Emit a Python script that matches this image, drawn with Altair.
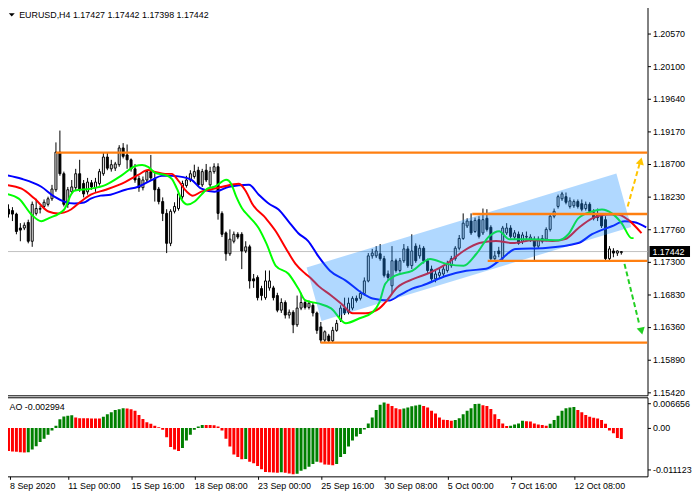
import altair as alt
import pandas as pd

# ---------------- data: EURUSD H4, bar 0 = 8 Sep 2020 08:00 ----------------
opens = [
    1.1826, 1.1805, 1.1803, 1.1798, 1.1778, 1.1778, 1.1786, 1.1759, 1.1799, 1.1805,
    1.1809, 1.1812, 1.1820, 1.1833, 1.1887, 1.1856, 1.1812, 1.1830, 1.1836, 1.1856,
    1.1842, 1.1830, 1.1843, 1.1836, 1.1842, 1.1856, 1.1880, 1.1863, 1.1864, 1.1869,
    1.1893, 1.1883, 1.1876, 1.1863, 1.1849, 1.1836, 1.1847, 1.1859, 1.1849, 1.1834,
    1.1816, 1.1799, 1.1756, 1.1802, 1.1806, 1.1823, 1.1839, 1.1847, 1.1852, 1.1861,
    1.1840, 1.1861, 1.1840, 1.1859, 1.1866, 1.1799, 1.1771, 1.1741, 1.1759, 1.1769,
    1.1769, 1.1745, 1.1751, 1.1705, 1.1707, 1.1691, 1.1678, 1.1692, 1.1692, 1.1681,
    1.1660, 1.1671, 1.1653, 1.1657, 1.1639, 1.1663, 1.1671, 1.1664, 1.1667, 1.1656,
    1.1636, 1.1617, 1.1623, 1.1616, 1.1631, 1.1646, 1.1663, 1.1657, 1.1663, 1.1677,
    1.1677, 1.1684, 1.1702, 1.1738, 1.1738, 1.1741, 1.1734, 1.1712, 1.1695, 1.1731,
    1.1717, 1.1731, 1.1748, 1.1724, 1.1752, 1.1738, 1.1749, 1.1731, 1.1719, 1.1705,
    1.1710, 1.1712, 1.1717, 1.1724, 1.1734, 1.1749, 1.1763, 1.1781, 1.1788, 1.1773,
    1.1790, 1.1771, 1.1792, 1.1779, 1.1734, 1.1745, 1.1735, 1.1771, 1.1778, 1.1765,
    1.1769, 1.1759, 1.1765, 1.1762, 1.1762, 1.1752, 1.1759, 1.1762, 1.1776, 1.1795,
    1.1809, 1.1820, 1.1823, 1.1809, 1.1810, 1.1816, 1.1813, 1.1806, 1.1812, 1.1800,
    1.1798, 1.1795, 1.1790, 1.1734, 1.1745, 1.1742, 1.17427]
highs = [
    1.1833, 1.1812, 1.1808, 1.1800, 1.1785, 1.1786, 1.1790, 1.1816, 1.1820, 1.1810,
    1.1819, 1.1823, 1.1840, 1.1901, 1.1918, 1.1859, 1.1837, 1.1847, 1.1863, 1.1876,
    1.1847, 1.1850, 1.1847, 1.1850, 1.1863, 1.1886, 1.1887, 1.1876, 1.1873, 1.1897,
    1.1900, 1.1898, 1.1878, 1.1870, 1.1853, 1.1852, 1.1861, 1.1883, 1.1859, 1.1837,
    1.1822, 1.1805, 1.1805, 1.1815, 1.1830, 1.1846, 1.1853, 1.1861, 1.1869, 1.1866,
    1.1863, 1.1870, 1.1866, 1.1871, 1.1871, 1.1802, 1.1773, 1.1776, 1.1773, 1.1772,
    1.1772, 1.1759, 1.1754, 1.1712, 1.1710, 1.1695, 1.1717, 1.1717, 1.1695, 1.1685,
    1.1677, 1.1674, 1.1661, 1.1660, 1.1681, 1.1685, 1.1675, 1.1674, 1.1671, 1.1658,
    1.1643, 1.1631, 1.1626, 1.1636, 1.1646, 1.1667, 1.1678, 1.1678, 1.1680, 1.1681,
    1.1688, 1.1707, 1.1742, 1.1748, 1.1752, 1.1755, 1.1738, 1.1717, 1.1752, 1.1734,
    1.1735, 1.1755, 1.1752, 1.1769, 1.1756, 1.1754, 1.1752, 1.1734, 1.1724, 1.1717,
    1.1719, 1.1725, 1.1731, 1.1738, 1.1752, 1.1768, 1.1799, 1.1792, 1.1799, 1.1793,
    1.1795, 1.1806, 1.1805, 1.1782, 1.1745, 1.1751, 1.1781, 1.1785, 1.1782, 1.1775,
    1.1773, 1.1772, 1.1773, 1.1769, 1.1766, 1.1766, 1.1768, 1.1779, 1.1799, 1.1806,
    1.1826, 1.1830, 1.1829, 1.1822, 1.1819, 1.1819, 1.1819, 1.1816, 1.1815, 1.1805,
    1.1806, 1.1799, 1.1795, 1.1752, 1.1749, 1.1746, 1.17442]
lows = [
    1.1796, 1.1793, 1.1788, 1.1769, 1.1759, 1.1775, 1.1756, 1.1751, 1.1796, 1.1799,
    1.1805, 1.1809, 1.1817, 1.1830, 1.1853, 1.1809, 1.1807, 1.1827, 1.1832, 1.1830,
    1.1822, 1.1826, 1.1833, 1.1830, 1.1839, 1.1853, 1.1861, 1.1859, 1.1860, 1.1866,
    1.1878, 1.1863, 1.1859, 1.1843, 1.1830, 1.1832, 1.1844, 1.1847, 1.1816, 1.1812,
    1.1788, 1.1742, 1.1752, 1.1799, 1.1803, 1.1820, 1.1836, 1.1844, 1.1849, 1.1837,
    1.1837, 1.1844, 1.1837, 1.1856, 1.1790, 1.1765, 1.1731, 1.1738, 1.1756, 1.1762,
    1.1719, 1.1742, 1.1691, 1.1692, 1.1674, 1.1674, 1.1675, 1.1688, 1.1674, 1.1657,
    1.1656, 1.1648, 1.1648, 1.1627, 1.1636, 1.1660, 1.1661, 1.1661, 1.1651, 1.1626,
    1.1613, 1.1614, 1.1613, 1.1614, 1.1629, 1.1643, 1.1653, 1.1654, 1.1660, 1.1671,
    1.1674, 1.1681, 1.1700, 1.1734, 1.1735, 1.1731, 1.1707, 1.1702, 1.1684, 1.1714,
    1.1714, 1.1728, 1.1721, 1.1719, 1.1728, 1.1734, 1.1727, 1.1712, 1.1702, 1.1700,
    1.1705, 1.1708, 1.1714, 1.1721, 1.1731, 1.1746, 1.1761, 1.1778, 1.1768, 1.1771,
    1.1763, 1.1768, 1.1773, 1.1731, 1.1731, 1.1736, 1.1732, 1.1768, 1.1763, 1.1761,
    1.1754, 1.1755, 1.1762, 1.1758, 1.1731, 1.1749, 1.1756, 1.1759, 1.1773, 1.1792,
    1.1806, 1.1817, 1.1812, 1.1806, 1.1807, 1.1806, 1.1802, 1.1803, 1.1798, 1.1789,
    1.1788, 1.1778, 1.1731, 1.1732, 1.1736, 1.1738, 1.17398]
closes = [
    1.1799, 1.1798, 1.1798, 1.1773, 1.1775, 1.1782, 1.1759, 1.1812, 1.1806, 1.1806,
    1.1815, 1.1820, 1.1834, 1.1887, 1.1856, 1.1812, 1.1833, 1.1837, 1.1856, 1.1834,
    1.1827, 1.1844, 1.1837, 1.1844, 1.1859, 1.1880, 1.1864, 1.1869, 1.1870, 1.1893,
    1.1881, 1.1876, 1.1863, 1.1847, 1.1836, 1.1847, 1.1859, 1.1850, 1.1833, 1.1816,
    1.1799, 1.1756, 1.1802, 1.1809, 1.1827, 1.1842, 1.1847, 1.1856, 1.1859, 1.1840,
    1.1859, 1.1847, 1.1859, 1.1866, 1.1799, 1.1769, 1.1741, 1.1762, 1.1769, 1.1765,
    1.1745, 1.1751, 1.1702, 1.1702, 1.1678, 1.1681, 1.1702, 1.1702, 1.1678, 1.1660,
    1.1671, 1.1653, 1.1657, 1.1639, 1.1663, 1.1671, 1.1664, 1.1670, 1.1656, 1.1631,
    1.1617, 1.1629, 1.1616, 1.1631, 1.1641, 1.1663, 1.1656, 1.1670, 1.1677, 1.1674,
    1.1684, 1.1702, 1.1738, 1.1742, 1.1745, 1.1734, 1.1710, 1.1707, 1.1731, 1.1717,
    1.1731, 1.1748, 1.1724, 1.1745, 1.1731, 1.1749, 1.1731, 1.1717, 1.1705, 1.1712,
    1.1714, 1.1719, 1.1727, 1.1734, 1.1749, 1.1763, 1.1785, 1.1788, 1.1771, 1.1789,
    1.1766, 1.1790, 1.1776, 1.1734, 1.1738, 1.1741, 1.1778, 1.1778, 1.1766, 1.1771,
    1.1756, 1.1768, 1.1766, 1.1765, 1.1752, 1.1762, 1.1763, 1.1776, 1.1795, 1.1802,
    1.1823, 1.1827, 1.1815, 1.1817, 1.1816, 1.1809, 1.1805, 1.1812, 1.1802, 1.1792,
    1.1793, 1.1781, 1.1734, 1.1748, 1.1742, 1.1745, 1.17442]

ao_values = [
    -0.0060, -0.0062, -0.0063, -0.0064, -0.0065, -0.0066, -0.0065, -0.0058, -0.0049, -0.0038,
    -0.0029, -0.0018, -0.0007, 0.0006, 0.0023, 0.0031, 0.0033, 0.0034, 0.0028, 0.0026,
    0.00259, 0.00257, 0.00255, 0.00253, 0.0025, 0.0030, 0.0037, 0.0042, 0.0048, 0.0050,
    0.0053, 0.0052, 0.0050, 0.0046, 0.0035, 0.0024, 0.0015, 0.0011, 0.0006, 0.0002,
    -0.0005, -0.0025, -0.0051, -0.0058, -0.0062, -0.0054, -0.0034, -0.0018, -0.0005, 0.0004,
    0.0008, 0.00078, 0.00076, 0.0007, 0.0004, -0.0007, -0.0029, -0.0050, -0.0071, -0.0078,
    -0.0084, -0.0083, -0.0091, -0.0095, -0.0102, -0.0111, -0.0118, -0.0119, -0.01195, -0.0120,
    -0.0119, -0.0120, -0.0122, -0.0124, -0.0123, -0.0115, -0.0111, -0.0104, -0.0097, -0.0091,
    -0.0093, -0.0098, -0.0099, -0.0100, -0.0097, -0.0078, -0.0070, -0.0050, -0.0034, -0.0023,
    -0.0016, -0.0004, 0.0012, 0.0028, 0.0048, 0.0062, 0.0068, 0.0065, 0.0059, 0.0053,
    0.0050, 0.0052, 0.0055, 0.0058, 0.0060, 0.0062, 0.0059, 0.0055, 0.0046, 0.0039,
    0.0028, 0.0022, 0.0021, 0.0019, 0.0021, 0.0026, 0.0037, 0.0046, 0.0053, 0.0064,
    0.0065, 0.0061, 0.0059, 0.0051, 0.0037, 0.0024, 0.0012, 0.0005, 0.0006, 0.0009,
    0.0012, 0.0019, 0.0018, 0.0017, 0.0012, 0.0009, 0.0008, 0.0006, 0.0011, 0.0021,
    0.0033, 0.0046, 0.0053, 0.0055, 0.0056, 0.0048, 0.0042, 0.0035, 0.0030, 0.0027,
    0.0025, 0.0021, 0.0011, -0.0007, -0.0014, -0.0027, -0.002994]

# Alligator lines (bar position, price), shifted forward past the last bar
jaw_idx = [0.1, 4.3, 9.3, 12.6, 15.1, 17.6, 20.1, 21.8, 24.3, 26.8,
           30.6, 33.8, 37.3, 39.8, 42.3, 44.8, 47.3, 49.8, 53.1, 56.8,
           61.8, 64.3, 66.8, 69.3, 71.8, 74.3, 76.8, 79.3, 82.3, 86.3,
           90.6, 93.1, 97.3, 99.8, 103.1, 105.6, 111.8, 116.8, 121.8, 125.1,
           129.3, 136.8, 145.1, 148.6, 153.6, 156.8, 159.3, 162.3]
jaw_val = [1.18543, 1.18487, 1.18373, 1.18231, 1.18160, 1.18132, 1.18146, 1.18203, 1.18245, 1.18259,
           1.18330, 1.18373, 1.18472, 1.18529, 1.18529, 1.18515, 1.18472, 1.18345, 1.18302, 1.18373,
           1.18401, 1.18259, 1.18132, 1.18046, 1.17876, 1.17706, 1.17592, 1.17379, 1.17166, 1.17024,
           1.16839, 1.16768, 1.16740, 1.16811, 1.16910, 1.16953, 1.17095, 1.17166, 1.17194, 1.17308,
           1.17478, 1.17493, 1.17564, 1.17691, 1.17805, 1.17876, 1.17862, 1.17791]
teeth_idx = [0.1, 4.3, 7.6, 11.1, 13.6, 16.8, 19.3, 21.8, 25.6, 30.6,
             33.8, 36.3, 38.1, 40.6, 42.3, 43.8, 46.1, 47.6, 49.8, 51.8,
             55.1, 59.3, 61.1, 62.6, 66.1, 68.6, 71.1, 73.6, 76.1, 77.6,
             79.3, 82.6, 85.1, 88.1, 91.3, 94.8, 96.3, 99.3, 103.6, 107.6,
             111.8, 116.1, 120.1, 124.3, 128.6, 133.6, 138.6, 141.8, 145.1, 148.6,
             152.6, 155.1, 157.6, 161.1]
teeth_val = [1.18401, 1.18345, 1.18203, 1.18018, 1.17990, 1.18046, 1.18160, 1.18259, 1.18330, 1.18444,
             1.18543, 1.18614, 1.18586, 1.18558, 1.18558, 1.18472, 1.18302, 1.18245, 1.18302, 1.18330,
             1.18373, 1.18416, 1.18302, 1.18132, 1.17919, 1.17734, 1.17493, 1.17265, 1.17123, 1.17052,
             1.16953, 1.16811, 1.16697, 1.16555, 1.16555, 1.16626, 1.16712, 1.16925, 1.17052, 1.17138,
             1.17265, 1.17450, 1.17564, 1.17592, 1.17564, 1.17606, 1.17592, 1.17620, 1.17777, 1.17919,
             1.17975, 1.17975, 1.17904, 1.17706]
lips_idx = [0.1, 3.6, 6.8, 9.3, 11.1, 15.1, 16.8, 17.6, 21.8, 25.6,
            29.8, 33.1, 34.8, 36.3, 38.1, 40.6, 42.3, 43.6, 44.8, 46.3,
            48.1, 49.8, 51.3, 53.1, 56.1, 57.3, 58.6, 60.1, 61.8, 64.3,
            66.3, 68.6, 71.8, 74.3, 76.1, 79.3, 82.6, 86.3, 89.8, 93.1,
            94.8, 96.3, 98.8, 103.1, 107.6, 111.8, 116.1, 119.3, 122.6, 125.1,
            127.6, 132.6, 140.1, 142.6, 145.1, 148.6, 151.1, 153.6, 156.1, 158.6,
            159.1]
lips_val = [1.18274, 1.18203, 1.17975, 1.17876, 1.17919, 1.18046, 1.18259, 1.18316, 1.18345, 1.18401,
            1.18543, 1.18671, 1.18685, 1.18657, 1.18572, 1.18543, 1.18487, 1.18345, 1.18188, 1.18117,
            1.18160, 1.18259, 1.18345, 1.18373, 1.18472, 1.18416, 1.18231, 1.18061, 1.17947, 1.17777,
            1.17549, 1.17237, 1.17123, 1.16910, 1.16740, 1.16697, 1.16626, 1.16413, 1.16484, 1.16570,
            1.16712, 1.16981, 1.17095, 1.17166, 1.17336, 1.17265, 1.17237, 1.17407, 1.17663, 1.17734,
            1.17620, 1.17620, 1.17606, 1.17691, 1.17919, 1.18018, 1.18046, 1.17990, 1.17848, 1.17635,
            1.17635]

price_ticks = [1.20570, 1.20100, 1.19640, 1.19170, 1.18700, 1.18230,
               1.17760, 1.17300, 1.16830, 1.16360, 1.15890, 1.15420]
# first label nudged right so it stays inside the visible page area
date_ticks = [1.25, 16, 32, 48, 64, 80, 96, 112, 128, 144]
date_labels = ["8 Sep 2020", "11 Sep 00:00", "15 Sep 16:00", "18 Sep 08:00",
               "23 Sep 00:00", "25 Sep 16:00", "30 Sep 08:00", "5 Oct 00:00",
               "7 Oct 16:00", "12 Oct 08:00"]
ao_ticks = [0.006656, 0.0, -0.011123]
ao_tick_labels = ["0.006656", "0.00", "-0.011123"]

level_start = [13.0, 118.3, 122.2, 79.9]
level_price = [1.18863, 1.17980, 1.17308, 1.16134]

# channel corners: upper-left, lower-left, lower-right, upper-right
channel_idx = [76.4, 80.15, 158.5, 154.75]
channel_price = [1.17213, 1.16446, 1.17795, 1.18562]

# forecast arrows: [up, down]
arrow_x0 = [157.6, 156.8]
arrow_p0 = [1.18089, 1.17265]
arrow_x1 = [160.6, 160.6]
arrow_p1 = [1.18700, 1.16385]
head_x = [160.9, 161.1]
head_p = [1.18742, 1.16300]

last_price = 1.17442
header_text = "EURUSD,H4  1.17427 1.17442 1.17398 1.17442"
ao_text = "AO -0.002994"

# ---------------- layout constants ----------------
X_MIN, X_MAX = -0.125, 162.625
P_MIN, P_MAX = 1.15377, 1.20957
AO_MIN, AO_MAX = -0.01299, 0.00822
W, H_MAIN, H_AO = 651, 393, 80
FONT = "Liberation Sans"

assert len(opens) == len(highs) == len(lows) == len(closes) == len(ao_values)
n = len(closes)

candles = pd.DataFrame({"i": list(range(n)), "o": opens, "h": highs, "l": lows, "c": closes})
candles["xl"] = candles["i"] - 0.25
candles["xr"] = candles["i"] + 0.25
candles["bull"] = candles["c"] >= candles["o"]

xs = alt.Scale(domain=[X_MIN, X_MAX], nice=False, zero=False)
ys = alt.Scale(domain=[P_MIN, P_MAX], nice=False, zero=False)

price_axis = alt.Axis(orient="right", values=price_ticks, format=".5f", tickSize=3,
                      labelPadding=2, domain=False, grid=False, title=None,
                      labelFont=FONT, labelFontSize=9, labelColor="black", tickColor="black")


def Y(field):
    return alt.Y(field, scale=ys, axis=price_axis)


def X(field):
    return alt.X(field, scale=xs, axis=None)


# half height (in price units) of the black last-price box on the axis
box_half = 5.5 * (P_MAX - P_MIN) / H_MAIN
cur_df = pd.DataFrame({"p": [last_price], "pt": [last_price + box_half],
                       "pb": [last_price - box_half]})
cur_line = alt.Chart(cur_df).mark_rule(color="#c0c0c0", strokeWidth=1).encode(
    x=alt.value(0), x2=alt.value(W), y=Y("p:Q"))

wicks = alt.Chart(candles).mark_rule(color="black", strokeWidth=1, clip=True).encode(
    x=X("i:Q"), y=Y("l:Q"), y2="h:Q")

bodies = alt.Chart(candles).mark_rect(stroke="black", strokeWidth=1, clip=True).encode(
    x=X("xl:Q"), x2="xr:Q", y=Y("o:Q"), y2="c:Q",
    fill=alt.condition("datum.bull", alt.value("white"), alt.value("black")))


def ma_layer(idx, vals, color):
    df = pd.DataFrame({"i": idx, "p": vals})
    return alt.Chart(df).mark_line(color=color, strokeWidth=2, interpolate="monotone",
                                   clip=True).encode(x=X("i:Q"), y=Y("p:Q"))


jaw = ma_layer(jaw_idx, jaw_val, "#0000ff")
teeth = ma_layer(teeth_idx, teeth_val, "#ff0000")
lips = ma_layer(lips_idx, lips_val, "#00ff00")

# channel parallelogram as an area between its upper and lower edges
ulx, llx, lrx, urx = channel_idx
ulp, llp, lrp, urp = channel_price
top_ll = ulp + (llx - ulx) / (urx - ulx) * (urp - ulp)
bot_ur = llp + (urx - llx) / (lrx - llx) * (lrp - llp)
chan_df = pd.DataFrame({"x": [ulx, llx, urx, lrx],
                        "top": [ulp, top_ll, urp, lrp],
                        "bot": [ulp, llp, bot_ur, lrp]})
channel = alt.Chart(chan_df).mark_area(color="#1e90ff", opacity=0.35, interpolate="linear").encode(
    x=X("x:Q"), y=Y("top:Q"), y2="bot:Q")

lvl_df = pd.DataFrame({"x": level_start, "p": level_price})
lvl_df["x2"] = X_MAX
levels = alt.Chart(lvl_df).mark_rule(color="#ff7f10", strokeWidth=2.5, clip=True).encode(
    x=X("x:Q"), x2="x2:Q", y=Y("p:Q"))

arrow_colors = ["#ffc400", "#22d022"]
head_shapes = ["triangle-up", "triangle-down"]
head_angles = [15, 347]
arrows = []
for k in range(2):
    adf = pd.DataFrame({"x": [arrow_x0[k], arrow_x1[k]], "p": [arrow_p0[k], arrow_p1[k]]})
    arrows.append(alt.Chart(adf).mark_line(color=arrow_colors[k], strokeWidth=2,
                                           strokeDash=[5, 3]).encode(x=X("x:Q"), y=Y("p:Q")))
    hdf = pd.DataFrame({"x": [head_x[k]], "p": [head_p[k]]})
    arrows.append(alt.Chart(hdf).mark_point(shape=head_shapes[k], filled=True, opacity=1,
                                            color=arrow_colors[k], size=70,
                                            angle=head_angles[k]).encode(x=X("x:Q"), y=Y("p:Q")))

tri = alt.Chart(cur_df).mark_point(shape="M-1,-0.55L1,-0.55L0,0.55Z", filled=True,
                                   color="black", opacity=1, size=36).encode(
    x=alt.value(7.8), y=alt.value(8))
header = alt.Chart(cur_df).mark_text(text=header_text, align="left", baseline="middle",
                                     font=FONT, fontSize=9, color="black").encode(
    x=alt.value(15.3), y=alt.value(8))

price_box = alt.Chart(cur_df).mark_rect(color="black").encode(
    x=alt.value(653), x2=alt.value(694), y=Y("pt:Q"), y2="pb:Q")
price_lbl = alt.Chart(cur_df).mark_text(text="1.17442", align="left", baseline="middle",
                                        font=FONT, fontSize=9, color="white").encode(
    x=alt.value(656), y=Y("p:Q"))

main = alt.layer(cur_line, wicks, bodies, jaw, teeth, lips, channel, levels, *arrows,
                 tri, header, price_box, price_lbl).properties(width=W, height=H_MAIN)

# ---------------- AO panel ----------------
ao_df = pd.DataFrame({"i": list(range(n)), "v": ao_values})
ao_df["up"] = ao_df["v"].diff() > 0
ao_df["xl"] = ao_df["i"] - 0.375
ao_df["xr"] = ao_df["i"] + 0.375
ao_df["zero"] = 0.0

date_expr = ("[" + ",".join("'%s'" % s for s in date_labels) + "][indexof(["
             + ",".join(repr(t) for t in date_ticks) + "], datum.value)]")
ao_expr = ("[" + ",".join("'%s'" % s for s in ao_tick_labels) + "][indexof(["
           + ",".join(repr(t) for t in ao_ticks) + "], datum.value)]")

date_axis = alt.Axis(orient="bottom", values=date_ticks, labelExpr=date_expr, labelAlign="left",
                     tickSize=3, labelPadding=2, domain=False, grid=False, title=None,
                     labelFlush=False, labelOverlap=False, labelFont=FONT, labelFontSize=9,
                     labelColor="black", tickColor="black")
ao_axis = alt.Axis(orient="right", values=ao_ticks, labelExpr=ao_expr, tickSize=3,
                   labelPadding=2, domain=False, grid=False, title=None,
                   labelFont=FONT, labelFontSize=9, labelColor="black", tickColor="black")

ao_bars = alt.Chart(ao_df).mark_rect(clip=True).encode(
    x=alt.X("xl:Q", scale=xs, axis=date_axis), x2="xr:Q",
    y=alt.Y("zero:Q", scale=alt.Scale(domain=[AO_MIN, AO_MAX], nice=False, zero=False),
            axis=ao_axis),
    y2="v:Q",
    fill=alt.condition("datum.up", alt.value("#008000"), alt.value("#ff0000")))
ao_label = alt.Chart(cur_df).mark_text(text=ao_text, align="left", baseline="middle",
                                       font=FONT, fontSize=9, color="black").encode(
    x=alt.value(5.5), y=alt.value(10))

ao = alt.layer(ao_bars, ao_label).properties(width=W, height=H_AO)

chart = alt.vconcat(main, ao, spacing=2, bounds="flush").properties(
    padding={"left": -5, "top": -5, "right": 0, "bottom": 0},
    background="white",
).configure_view(stroke="black", strokeWidth=1)

chart.save("out.html", embed_options={"renderer": "svg", "actions": False})
